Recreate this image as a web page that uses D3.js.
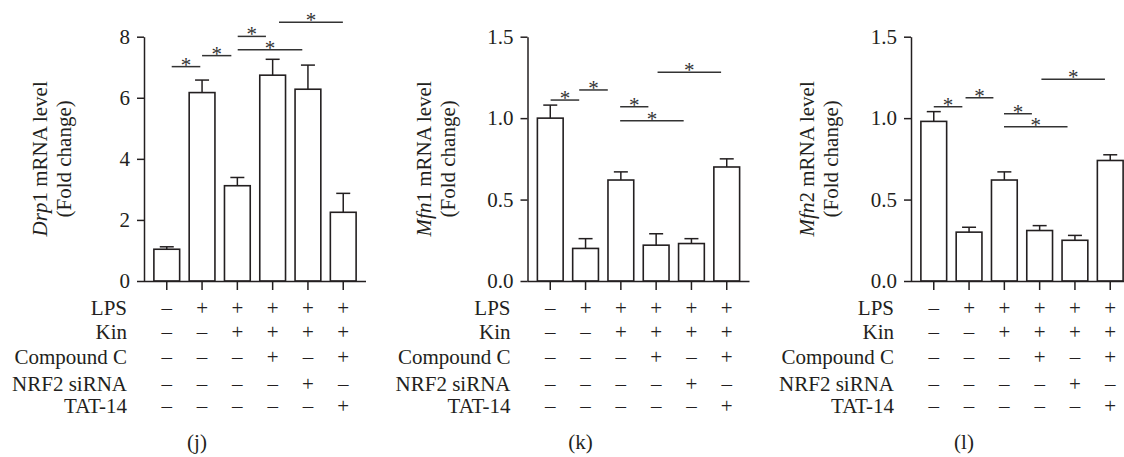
<!DOCTYPE html>
<html><head><meta charset="utf-8">
<script src="https://cdn.jsdelivr.net/npm/d3@7"></script>
<style>
html,body{margin:0;padding:0;background:#fff;}
svg text{font-family:"Liberation Serif","DejaVu Serif","Noto Serif",serif !important;}
</style></head>
<body><svg id="chart" width="1124" height="457"></svg>
<script>
// ---------- data ----------
const groups = ["G1","G2","G3","G4","G5","G6"];
const drp1Mean = [1.04, 6.17, 3.12, 6.74, 6.28, 2.25];
const drp1Sem  = [0.08, 0.41, 0.27, 0.52, 0.79, 0.62];
const mfn1Mean = [1.00, 0.20, 0.62, 0.22, 0.23, 0.70];
const mfn1Sem  = [0.08, 0.06, 0.05, 0.07, 0.03, 0.05];
const mfn2Mean = [0.98, 0.30, 0.62, 0.31, 0.25, 0.74];
const mfn2Sem  = [0.06, 0.03, 0.05, 0.03, 0.03, 0.035];
const drp1Ticks = [0, 2, 4, 6, 8];
const mfnTicks = [0, 0.5, 1.0, 1.5];
// significance brackets: [from position, to position, height]
const drp1Sig = [[0.14,0.95,7.02],[1.0,1.83,7.38],[2.01,2.81,8.01],[2.01,3.84,7.57],[3.18,4.99,8.47]];
const mfn1Sig = [[0.01,0.82,1.111],[0.82,1.63,1.173],[1.98,2.78,1.07],[1.98,3.78,0.984],[3.04,4.84,1.281]];
const mfn2Sig = [[0.0,0.81,1.07],[0.9,1.69,1.125],[1.99,2.78,1.027],[1.99,3.79,0.947],[3.05,4.85,1.238]];
// treatment table
const rowLabels = ["LPS","Kin","Compound C","NRF2 siRNA","TAT-14"];
const lps       = ["–","+","+","+","+","+"];
const kin       = ["–","–","+","+","+","+"];
const compoundC = ["–","–","–","+","–","+"];
const nrf2      = ["–","–","–","–","+","–"];
const tat14     = ["–","–","–","–","–","+"];
const treatRows = [lps, kin, compoundC, nrf2, tat14];
const panelLetters = ["(j)","(k)","(l)"];
const geneItalic = ["Drp","Mfn","Mfn"];
const geneNum = ["1","1","2"];

const panels = [
  {mean: drp1Mean, sem: drp1Sem, ticks: drp1Ticks, max: 8, fmt: d3.format("d"), sig: drp1Sig},
  {mean: mfn1Mean, sem: mfn1Sem, ticks: mfnTicks, max: 1.5, fmt: d3.format(".1f"), sig: mfn1Sig},
  {mean: mfn2Mean, sem: mfn2Sem, ticks: mfnTicks, max: 1.5, fmt: d3.format(".1f"), sig: mfn2Sig},
];

// ---------- layout ----------
const svg = d3.select("#chart");
const ink = "#231f20";
const axisX0 = [144, 527.5, 911];
const plotW = 222, plotTop = 36.7, plotBottom = 281;
const rowY = [308, 332, 357, 384, 406];
const fs = 21;
const serif = '"Liberation Serif","DejaVu Serif",serif';

panels.forEach((p, pi) => {
  const g = svg.append("g").attr("font-family", serif);
  const x0 = axisX0[pi];
  const x = d3.scaleBand().domain(groups).range([x0, x0 + plotW]).paddingInner(0.27).paddingOuter(0.28);
  const y = d3.scaleLinear().domain([0, p.max]).range([plotBottom, plotTop]);
  const step = x.step(), bw = x.bandwidth();
  const pos = i => x(groups[0]) + bw / 2 + i * step;

  // y axis
  const ya = g.append("g").attr("transform", `translate(${x0},0)`)
    .call(d3.axisLeft(y).tickValues(p.ticks).tickFormat(p.fmt).tickSize(7).tickSizeOuter(0).tickPadding(7));
  ya.attr("font-family", serif).attr("font-size", fs);
  ya.select(".domain").attr("stroke", ink).attr("stroke-width", 1.5);
  ya.selectAll(".tick line").attr("stroke", ink).attr("stroke-width", 1.5);
  ya.selectAll(".tick text").attr("fill", ink);

  // bars
  g.selectAll("rect.bar").data(p.mean).enter().append("rect")
    .attr("x", (d, i) => x(groups[i])).attr("width", bw)
    .attr("y", d => y(d)).attr("height", d => y(0) - y(d))
    .attr("fill", "#fff").attr("stroke", ink).attr("stroke-width", 1.6);

  // error bars (upper)
  p.mean.forEach((m, i) => {
    const cx = pos(i);
    g.append("line").attr("x1", cx).attr("x2", cx).attr("y1", y(m)).attr("y2", y(m + p.sem[i]))
      .attr("stroke", ink).attr("stroke-width", 1.5);
    g.append("line").attr("x1", cx - 7).attr("x2", cx + 7).attr("y1", y(m + p.sem[i])).attr("y2", y(m + p.sem[i]))
      .attr("stroke", ink).attr("stroke-width", 1.5);
  });

  // x axis
  const xa = g.append("g").attr("transform", `translate(0,${plotBottom})`)
    .call(d3.axisBottom(x).tickFormat("").tickSize(9).tickSizeOuter(0));
  xa.select(".domain").attr("stroke", ink).attr("stroke-width", 1.5)
    .attr("d", `M${x0},0.5H${x0 + plotW}`);
  xa.selectAll(".tick line").attr("stroke", ink).attr("stroke-width", 1.5);

  // significance
  p.sig.forEach(s => {
    const xa1 = pos(s[0]), xa2 = pos(s[1]), yy = y(s[2]);
    g.append("line").attr("x1", xa1).attr("x2", xa2).attr("y1", yy).attr("y2", yy)
      .attr("stroke", "#333").attr("stroke-width", 1.5);
    g.append("text").attr("x", (xa1 + xa2) / 2).attr("y", yy + 5).attr("text-anchor", "middle")
      .attr("font-size", fs).attr("fill", "#333").text("*");
  });

  // y title
  const tx = x0 - 97, ty = (plotTop + plotBottom) / 2;
  const tt = g.append("text").attr("transform", `translate(${tx},${ty}) rotate(-90)`)
    .attr("text-anchor", "middle").attr("font-size", fs).attr("fill", ink);
  tt.append("tspan").attr("x", 0).attr("dy", 0).attr("font-style", "italic").text(geneItalic[pi]);
  tt.append("tspan").text(geneNum[pi] + " mRNA level");
  tt.append("tspan").attr("x", 0).attr("dy", 24).text("(Fold change)");

  // treatment table
  treatRows.forEach((row, ri) => {
    g.append("text").attr("x", x0 - 17).attr("y", rowY[ri]).attr("dy", "0.35em")
      .attr("text-anchor", "end").attr("font-size", fs).attr("fill", ink).text(rowLabels[ri]);
    g.selectAll(null).data(row).enter().append("text")
      .attr("x", (d, i) => pos(i)).attr("y", rowY[ri]).attr("dy", "0.35em")
      .attr("text-anchor", "middle").attr("font-size", fs).attr("fill", ink).text(d => d);
  });

  // panel letter
  g.append("text").attr("x", x0 + 53).attr("y", 442).attr("dy", "0.35em").attr("text-anchor", "middle")
    .attr("font-size", fs).attr("fill", ink).text(panelLetters[pi]);
});
</script></body></html>
